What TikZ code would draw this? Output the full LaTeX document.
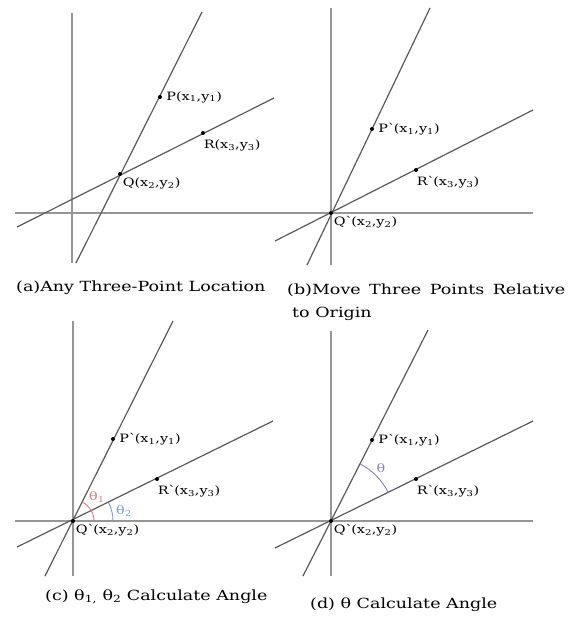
\documentclass[tikz,border=0pt]{standalone}
\usepackage{fontspec}
\setmainfont{DejaVu Serif}[FakeStretch=1.25]
\usetikzlibrary{angles,positioning}
\definecolor{gaxis}{RGB}{150,150,150}
\definecolor{gline}{RGB}{90,90,90}
\definecolor{gred}{RGB}{222,120,130}
\definecolor{gblue}{RGB}{110,160,215}
\definecolor{gpurple}{RGB}{140,125,195}
\tikzset{
  gaxisln/.style={draw=gaxis, line width=1.2pt},
  glineln/.style={draw=gline, line width=1.2pt},
  gdot/.style={circle, fill=black, inner sep=0pt, minimum size=4pt},
  glab/.style={font=\fontsize{11.5}{13}\selectfont, inner sep=1pt},
  gcap/.style={font=\fontsize{14}{16}\selectfont, inner sep=0pt, anchor=west}
}
\newcommand{\gxy}[1]{(x\textsubscript{#1},y\textsubscript{#1})}
\newcommand{\gmv}{\textasciigrave}

\begin{document}
\begin{tikzpicture}[x=1pt, y=-1pt]
  \useasboundingbox (0,0) rectangle (570,618);

  % (a)
  \draw[gaxisln] (72,13) -- (72,263);
  \draw[gaxisln] (15,213) -- (285,213);
  \coordinate (pa1) at (202,12);
  \coordinate (pa2) at (76,263);
  \coordinate (ra1) at (17,227);
  \coordinate (ra2) at (274,98);
  \draw[glineln] (pa2) -- (pa1);
  \draw[glineln] (ra1) -- (ra2);
  \node[gdot] (qa) at (120,174) {};
  \node[gdot] (pa) at (160,97) {};
  \node[gdot] (ra) at (203,133) {};
  \node[glab, right=3pt of pa] {P\gxy{1}};
  \node[glab, below right=4pt and -2pt of ra] {R\gxy{3}};
  \node[glab, below right=1pt and 0pt of qa] {Q\gxy{2}};
  \node[gcap] at (16,288) {(a)Any Three-Point Location};

  % (b)
  \draw[gaxisln] (331,8) -- (331,265);
  \draw[gaxisln] (285,213) -- (533,213);
  \coordinate (pb1) at (430,8);
  \coordinate (pb2) at (307,265);
  \coordinate (rb1) at (275,241);
  \coordinate (rb2) at (533,110);
  \draw[glineln] (pb2) -- (pb1);
  \draw[glineln] (rb1) -- (rb2);
  \node[gdot] (qb) at (331,213) {};
  \node[gdot] (pb) at (372,129) {};
  \node[gdot] (rb) at (416,170) {};
  \node[glab, right=3pt of pb] {P\gmv\gxy{1}};
  \node[glab, below right=4pt and -2pt of rb] {R\gmv\gxy{3}};
  \node[glab, below right=1pt and 0pt of qb] {Q\gmv\gxy{2}};
  \node[gcap] (capb) at (287,290) {\makebox[278pt][s]{(b)Move Three Points Relative}};
  \node[gcap] at (292,314) {to Origin};

  % (c)
  \draw[gaxisln] (73,321) -- (73,576);
  \draw[gaxisln] (15,521) -- (285,521);
  \coordinate (pc1) at (173,321);
  \coordinate (pc2) at (45,576);
  \coordinate (rc1) at (17,547);
  \coordinate (rc2) at (273,421);
  \coordinate (xc) at (285,521);
  \draw[glineln] (pc2) -- (pc1);
  \draw[glineln] (rc1) -- (rc2);
  \node[gdot] (qc) at (73,521) {};
  \node[gdot] (pc) at (113,439) {};
  \node[gdot] (rc) at (157,479) {};
  \pic[draw=gred, line width=0.9pt, angle radius=21pt] {angle=xc--qc--pc1};
  \pic[draw=gblue, line width=0.9pt, angle radius=40pt] {angle=xc--qc--rc2};
  \node[glab, text=gred] (t1) at (97,497) {θ\textsubscript{1}};
  \node[glab, text=gblue] (t2) at (124,511) {θ\textsubscript{2}};
  \node[glab, right=3pt of pc] {P\gmv\gxy{1}};
  \node[glab, below right=4pt and -2pt of rc] {R\gmv\gxy{3}};
  \node[glab, below right=1pt and 0pt of qc] {Q\gmv\gxy{2}};
  \node[gcap] at (45,597) {(c) θ\textsubscript{1,} θ\textsubscript{2} Calculate Angle};

  % (d)
  \draw[gaxisln] (331,331) -- (331,576);
  \draw[gaxisln] (285,521) -- (533,521);
  \coordinate (pd1) at (428,330);
  \coordinate (pd2) at (303,576);
  \coordinate (rd1) at (275,548);
  \coordinate (rd2) at (533,421);
  \draw[glineln] (pd2) -- (pd1);
  \draw[glineln] (rd1) -- (rd2);
  \node[gdot] (qd) at (331,521) {};
  \node[gdot] (pd) at (372,440) {};
  \node[gdot] (rd) at (416,479) {};
  \pic[draw=gpurple, line width=0.9pt, angle radius=64pt] {angle=rd2--qd--pd1};
  \node[glab, text=gpurple] (t3) at (381,468) {θ};
  \node[glab, right=3pt of pd] {P\gmv\gxy{1}};
  \node[glab, below right=4pt and -2pt of rd] {R\gmv\gxy{3}};
  \node[glab, below right=1pt and 0pt of qd] {Q\gmv\gxy{2}};
  \node[gcap] at (310,605) {(d) θ Calculate Angle};
\end{tikzpicture}
\end{document}
